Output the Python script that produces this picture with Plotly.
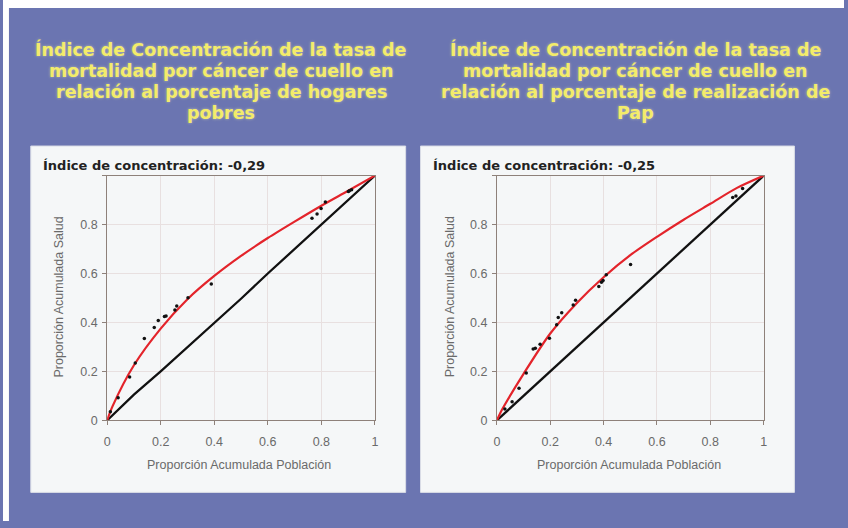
import plotly.graph_objects as go

# Concentration curves: cumulative share of population vs cumulative share of health outcome
curve_x = [0, 0.02, 0.1, 0.2, 0.3, 0.4, 0.5, 0.6, 0.7, 0.8, 0.9, 1.0]
curve_pobres = [0, 0.057, 0.225, 0.375, 0.495, 0.59, 0.672, 0.745, 0.812, 0.877, 0.938, 1.0]
curve_pap = [0, 0.045, 0.19, 0.355, 0.48, 0.585, 0.675, 0.75, 0.82, 0.885, 0.95, 1.0]

# Equality line
diag_x = [0, 0.1, 0.2, 0.3, 0.4, 0.5, 0.6, 0.7, 0.8, 0.9, 1.0]
diag_pobres = [0, 0.105, 0.20, 0.298, 0.395, 0.497, 0.60, 0.70, 0.802, 0.90, 1.0]
diag_pap = [0, 0.10, 0.20, 0.30, 0.40, 0.50, 0.60, 0.70, 0.80, 0.90, 1.0]

# Observed points (departments)
pts_pobres_x = [0.012, 0.041, 0.084, 0.105, 0.139, 0.176, 0.191, 0.214, 0.22, 0.253, 0.26,
                0.302, 0.389, 0.765, 0.784, 0.799, 0.815, 0.901, 0.905, 0.913]
pts_pobres_y = [0.035, 0.092, 0.177, 0.234, 0.334, 0.379, 0.408, 0.424, 0.426, 0.451, 0.467,
                0.501, 0.557, 0.826, 0.843, 0.866, 0.892, 0.935, 0.938, 0.942]
pts_pap_x = [0.03, 0.057, 0.083, 0.11, 0.136, 0.144, 0.162, 0.197, 0.224, 0.23, 0.243,
             0.286, 0.295, 0.382, 0.392, 0.398, 0.41, 0.501, 0.884, 0.896, 0.921]
pts_pap_y = [0.046, 0.076, 0.131, 0.194, 0.292, 0.295, 0.311, 0.335, 0.391, 0.42, 0.44,
             0.471, 0.491, 0.547, 0.564, 0.571, 0.595, 0.637, 0.911, 0.917, 0.947]

tick_vals = [0, 0.2, 0.4, 0.6, 0.8, 1.0]
x_tick_text = ["0", "0.2", "0.4", "0.6", "0.8", "1"]
y_tick_text = ["0", "0.2", "0.4", "0.6", "0.8", ""]

titles = [
    ["Índice de Concentración de la tasa de", "mortalidad por cáncer de cuello en",
     "relación al porcentaje de hogares", "pobres"],
    ["Índice de Concentración de la tasa de", "mortalidad por cáncer de cuello en",
     "relación al porcentaje de realización de", "Pap"],
]
index_labels = ["Índice de concentración: -0,29", "Índice de concentración: -0,25"]

W, H = 848, 528
BG = "#6B75B1"
PANEL = "#F5F7F8"
FRAME = "#8E817A"
GRID = "#E8E0E0"
TICKFONT = dict(family="Liberation Sans, Arial", size=12.5, color="#6A6A6A")


def px(x):
    return x / W


def py(y):
    return 1 - y / H


fig = go.Figure()

panels = [
    dict(xa="x", ya="y", cx=curve_pobres, dx=diag_pobres, px_=pts_pobres_x, py_=pts_pobres_y),
    dict(xa="x2", ya="y2", cx=curve_pap, dx=diag_pap, px_=pts_pap_x, py_=pts_pap_y),
]
for p in panels:
    fig.add_trace(go.Scatter(x=diag_x, y=p["dx"], mode="lines", xaxis=p["xa"], yaxis=p["ya"],
                             line=dict(color="#111111", width=2.3), showlegend=False))
    fig.add_trace(go.Scatter(x=curve_x, y=p["cx"], mode="lines", xaxis=p["xa"], yaxis=p["ya"],
                             line=dict(color="#E3242B", width=2.2, shape="spline", smoothing=0.8),
                             showlegend=False))
    fig.add_trace(go.Scatter(x=p["px_"], y=p["py_"], mode="markers", xaxis=p["xa"], yaxis=p["ya"],
                             marker=dict(color="#111111", size=3.5), cliponaxis=False,
                             showlegend=False))

axis_common = dict(range=[0, 1], tickvals=tick_vals, showgrid=True, gridcolor=GRID, gridwidth=1,
                   zeroline=False, showline=True, mirror=True, linecolor=FRAME, linewidth=1,
                   ticks="outside", ticklen=4, tickcolor=FRAME, tickfont=TICKFONT)

plot_y = [py(426), py(178)]
fig.update_layout(
    width=W, height=H, margin=dict(l=0, r=0, t=0, b=0),
    paper_bgcolor=BG, plot_bgcolor=PANEL,
    xaxis=dict(domain=[px(105), px(375)], anchor="y", ticktext=x_tick_text,
               ticklabelstandoff=6, **axis_common),
    yaxis=dict(domain=plot_y, anchor="x", ticktext=y_tick_text, ticklabelstandoff=2,
               **axis_common),
    xaxis2=dict(domain=[px(498), px(767)], anchor="y2", ticktext=x_tick_text,
                ticklabelstandoff=6, **axis_common),
    yaxis2=dict(domain=plot_y, anchor="x2", ticktext=y_tick_text, ticklabelstandoff=2,
                **axis_common),
)

shapes = [
    # white strip at the top and left edge
    dict(type="rect", xref="paper", yref="paper", x0=0, x1=1, y0=py(8), y1=1,
         fillcolor="white", line_width=0, layer="below"),
    dict(type="rect", xref="paper", yref="paper", x0=0, x1=px(6), y0=0, y1=1,
         fillcolor="white", line_width=0, layer="below"),
    # white chart panels
    dict(type="rect", xref="paper", yref="paper", x0=px(28), x1=px(406), y0=py(499), y1=py(148),
         fillcolor=PANEL, line=dict(color="#DADDE6", width=1), layer="below"),
    dict(type="rect", xref="paper", yref="paper", x0=px(421), x1=px(798), y0=py(499), y1=py(148),
         fillcolor=PANEL, line=dict(color="#DADDE6", width=1), layer="below"),
]

annotations = []
line_y = [50.5, 72, 93.5, 115]
for cx, lines in zip([220, 638], titles):
    for ly, txt in zip(line_y, lines):
        annotations.append(dict(
            text=txt, x=px(cx), y=py(ly), xref="paper", yref="paper", showarrow=False,
            xanchor="center", yanchor="middle",
            font=dict(family="DejaVu Sans", size=17.5, color="#F3EC6A", weight="bold",
                      shadow="0px 0px 3px rgba(250,245,180,0.55)")))

for lx, txt in zip([38, 432], index_labels):
    annotations.append(dict(
        text=txt, x=px(lx), y=py(168), xref="paper", yref="paper", showarrow=False,
        xanchor="left", yanchor="middle",
        font=dict(family="DejaVu Sans", size=13, color="#222222", weight="bold")))

for cx in [238, 631]:
    annotations.append(dict(
        text="Proporción Acumulada Población", x=px(cx), y=py(471), xref="paper", yref="paper",
        showarrow=False, xanchor="center", yanchor="middle",
        font=dict(family="Liberation Sans, Arial", size=12.5, color="#6A6A6A")))

for cx in [56, 451]:
    annotations.append(dict(
        text="Proporción Acumulada Salud", x=px(cx), y=py(301), xref="paper", yref="paper",
        showarrow=False, xanchor="center", yanchor="middle", textangle=-90,
        font=dict(family="Liberation Sans, Arial", size=12.5, color="#6A6A6A")))

fig.update_layout(shapes=shapes, annotations=annotations)

fig.write_html("out.html")
